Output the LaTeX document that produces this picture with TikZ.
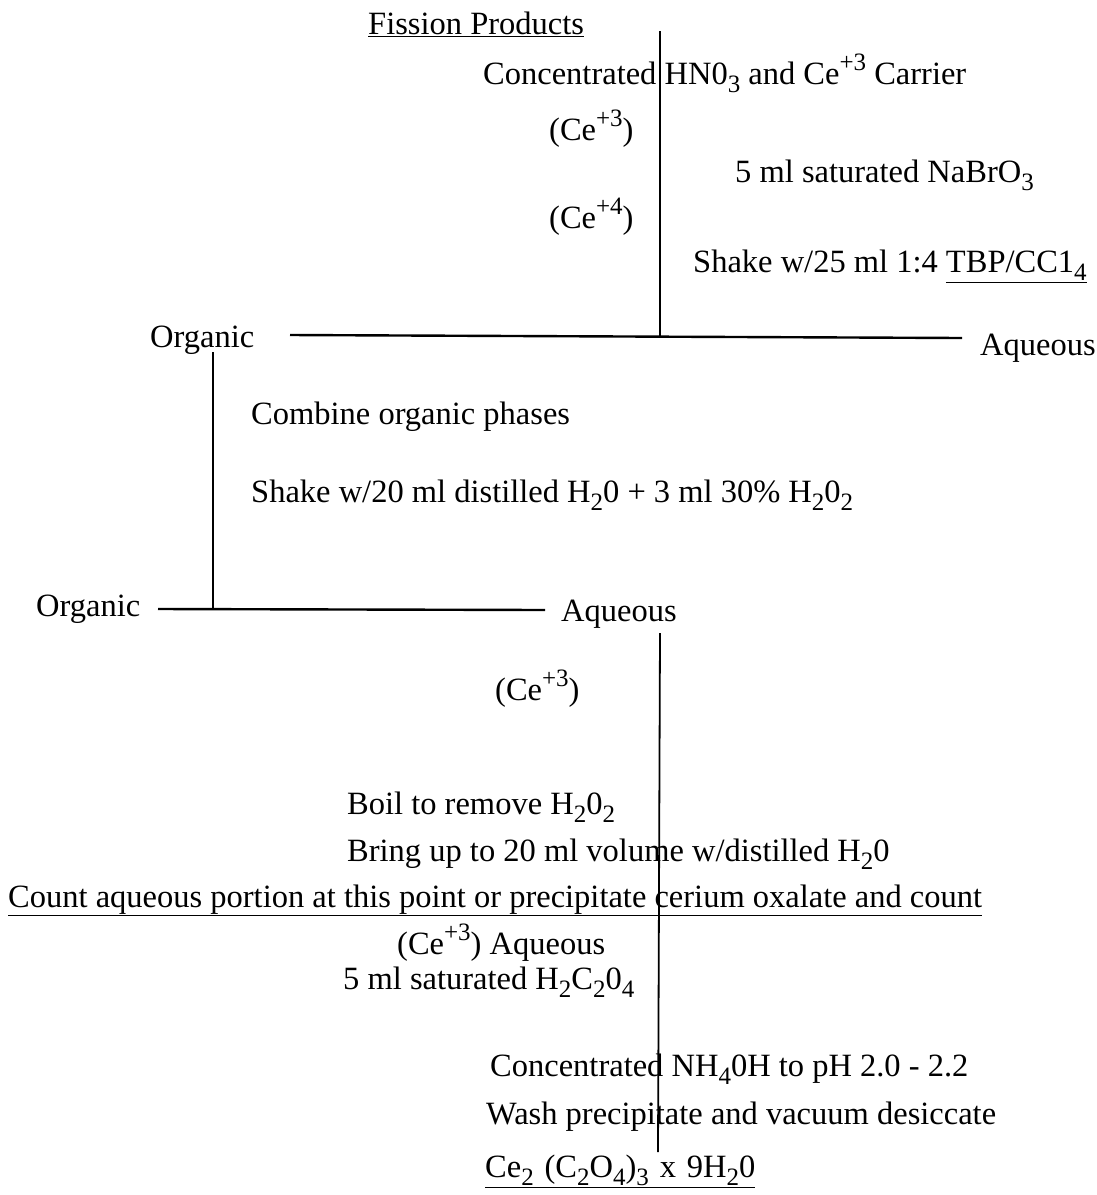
\documentclass[tikz,border=0pt]{standalone}
\usepackage{fontspec}
\setmainfont{Liberation Serif}
\usetikzlibrary{positioning}
\newcommand{\chsub}[1]{\raisebox{-0.27em}{\fontsize{25}{27}\selectfont #1}}
\newcommand{\chsup}[1]{\raisebox{0.42em}{\fontsize{25}{27}\selectfont #1}}

\begin{document}
\begin{tikzpicture}[x=1pt, y=-1pt,
    steptext/.style={anchor=base west, inner sep=0pt, font=\fontsize{32.5}{36}\selectfont},
    phase/.style={line width=2.4pt},
    stem/.style={line width=1.8pt}
  ]
  \useasboundingbox (0,0) rectangle (1096,1195);

  % === Extraction into TBP ===
  \node[steptext] (fission) at (368,34) {\underline{Fission Products}};
  \node[steptext] (acid) at (483,84) {Concentrated HN0\chsub{3} and Ce\chsup{+3} Carrier};
  \node[steptext] (ce3a) at (549,140) {(Ce\chsup{+3})};
  \node[steptext] (bromate) at (735,182) {5 ml saturated NaBrO\chsub{3}};
  \node[steptext] (ce4) at (549,228) {(Ce\chsup{+4})};
  \node[steptext] (tbp) at (693,272) {Shake w/25 ml 1:4 \underline{TBP/CC1\chsub{4}}};
  \node[steptext] (org1) at (150,347) {Organic};
  \node[steptext] (aq1) at (980,355) {Aqueous};
  \coordinate (feed) at (660,31);
  \coordinate (split1) at (660,336);
  \coordinate (s1left) at (290,335);
  \coordinate (s1right) at (962,338);
  \draw[stem] (feed) -- (split1);
  \draw[phase] (s1left) -- (s1right);

  % === Back extraction ===
  \node[steptext] (combine) at (251,424) {Combine organic phases};
  \node[steptext] (strip) at (251,502) {Shake w/20 ml distilled H\chsub{2}0 + 3 ml 30\% H\chsub{2}0\chsub{2}};
  \node[steptext] (org2) at (36,616) {Organic};
  \node[steptext] (aq2) at (561,621) {Aqueous};
  \coordinate (orgstem) at (213,352);
  \coordinate (split2) at (213,609);
  \coordinate (s2left) at (158,609);
  \coordinate (s2right) at (545,610);
  \draw[stem] (orgstem) -- (split2);
  \draw[phase] (s2left) -- (s2right);

  % === Aqueous Ce+3 and oxalate ===
  \node[steptext] (ce3b) at (495,700) {(Ce\chsup{+3})};
  \node[steptext] (boil) at (347,814) {Boil to remove H\chsub{2}0\chsub{2}};
  \node[steptext] (volume) at (347,861) {Bring up to 20 ml volume w/distilled H\chsub{2}0};
  \node[steptext] (count) at (8,907) {\underline{Count aqueous portion at this point or precipitate cerium oxalate and count}};
  \node[steptext] (ce3c) at (397,954) {(Ce\chsup{+3}) Aqueous};
  \node[steptext] (oxalic) at (343,989) {5 ml saturated H\chsub{2}C\chsub{2}0\chsub{4}};
  \node[steptext] (ammonia) at (490,1076) {Concentrated NH\chsub{4}0H to pH 2.0 - 2.2};
  \node[steptext] (wash) at (486,1124) {Wash precipitate and vacuum desiccate};
  \node[steptext] (product) at (485,1177) {\underline{Ce\chsub{2}\,\,(C\chsub{2}O\chsub{4})\chsub{3}\,\,x\,\,9H\chsub{2}0}};
  \coordinate (aqstem) at (660,633);
  \coordinate (aqend) at (658,1152);
  \draw[stem] (aqstem) -- (aqend);
\end{tikzpicture}
\end{document}
